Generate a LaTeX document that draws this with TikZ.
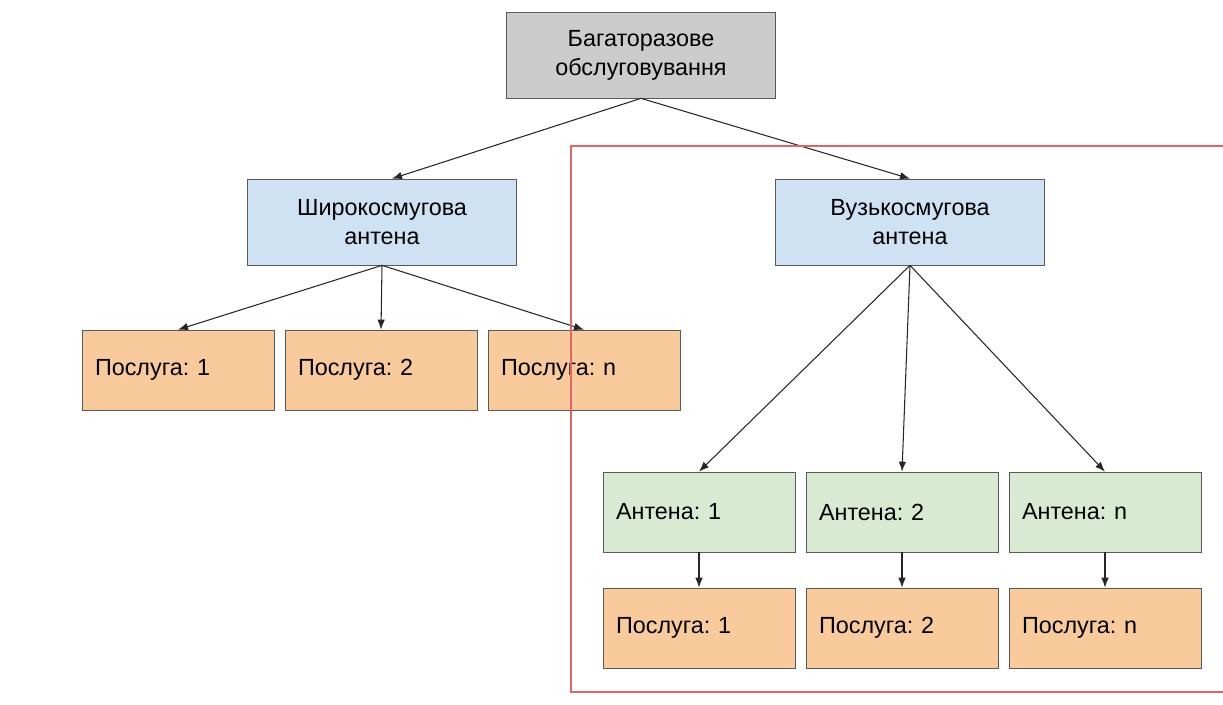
\documentclass[tikz,border=0pt]{standalone}
\usepackage{fontspec}
\setmainfont{Liberation Sans}
\usetikzlibrary{arrows.meta}
\definecolor{boxgray}{HTML}{CCCCCC}
\definecolor{boxblue}{HTML}{CFE2F3}
\definecolor{boxorange}{HTML}{F9CB9C}
\definecolor{boxgreen}{HTML}{D9EAD3}
\definecolor{boxline}{HTML}{595959}
\definecolor{groupred}{HTML}{E06666}
\frenchspacing
\begin{document}
\begin{tikzpicture}
    [x=0.02cm,y=-0.02cm,font=\fontsize{13.3}{16.5}\selectfont,
     bigbox/.style={draw=boxline,minimum width=5.38cm,minimum height=1.72cm,align=center,inner sep=0pt},
     smallbox/.style={draw=boxline,text width=3.32cm,inner xsep=0.26cm,minimum height=1.6cm,align=left},
     link/.style={-{Latex[length=2mm,width=1.5mm]},line width=0.6pt,draw=black!85}]
  \useasboundingbox (0,0) rectangle (1223,704);
  \node[bigbox,fill=boxgray] (multi) at (641,55) {Багаторазове\\обслуговування};
  \node[bigbox,fill=boxblue] (wide) at (382,222) {Широкосмугова\\антена};
  \node[bigbox,fill=boxblue] (narrow) at (910,222) {Вузькосмугова\\антена};
  \node[smallbox,fill=boxorange] (ws1) at (178,370) {Послуга: 1};
  \node[smallbox,fill=boxorange] (ws2) at (381,370) {Послуга: 2};
  \node[smallbox,fill=boxorange] (wsn) at (584,370) {Послуга: n};
  \node[smallbox,fill=boxgreen] (ant1) at (699,512) {Антена: 1};
  \node[smallbox,fill=boxgreen] (ant2) at (902,512) {Антена: 2};
  \node[smallbox,fill=boxgreen] (antn) at (1105,512) {Антена: n};
  \node[smallbox,fill=boxorange] (ns1) at (699,628) {Послуга: 1};
  \node[smallbox,fill=boxorange] (ns2) at (902,628) {Послуга: 2};
  \node[smallbox,fill=boxorange] (nsn) at (1105,628) {Послуга: n};
  \draw[link] (multi.south) -- ([xshift=0.2cm]wide.north);
  \draw[link] (multi.south) -- (narrow.north);
  \draw[link] (wide.south) -- (ws1.north);
  \draw[link] (wide.south) -- (ws2.north);
  \draw[link] (wide.south) -- (wsn.north);
  \draw[link] (narrow.south) -- (ant1.north);
  \draw[link] (narrow.south) -- (ant2.north);
  \draw[link] (narrow.south) -- (antn.north);
  \foreach \a/\s in {ant1/ns1,ant2/ns2,antn/nsn}
    \draw[link] (\a.south) -- (\s.north);
  \coordinate (grouptop) at (1230,146);
  \coordinate (groupbottom) at (1230,692);
  \draw[groupred,line width=0.8pt] (grouptop) -- (571,146) -- (571,692) -- (groupbottom);
\end{tikzpicture}
\end{document}
